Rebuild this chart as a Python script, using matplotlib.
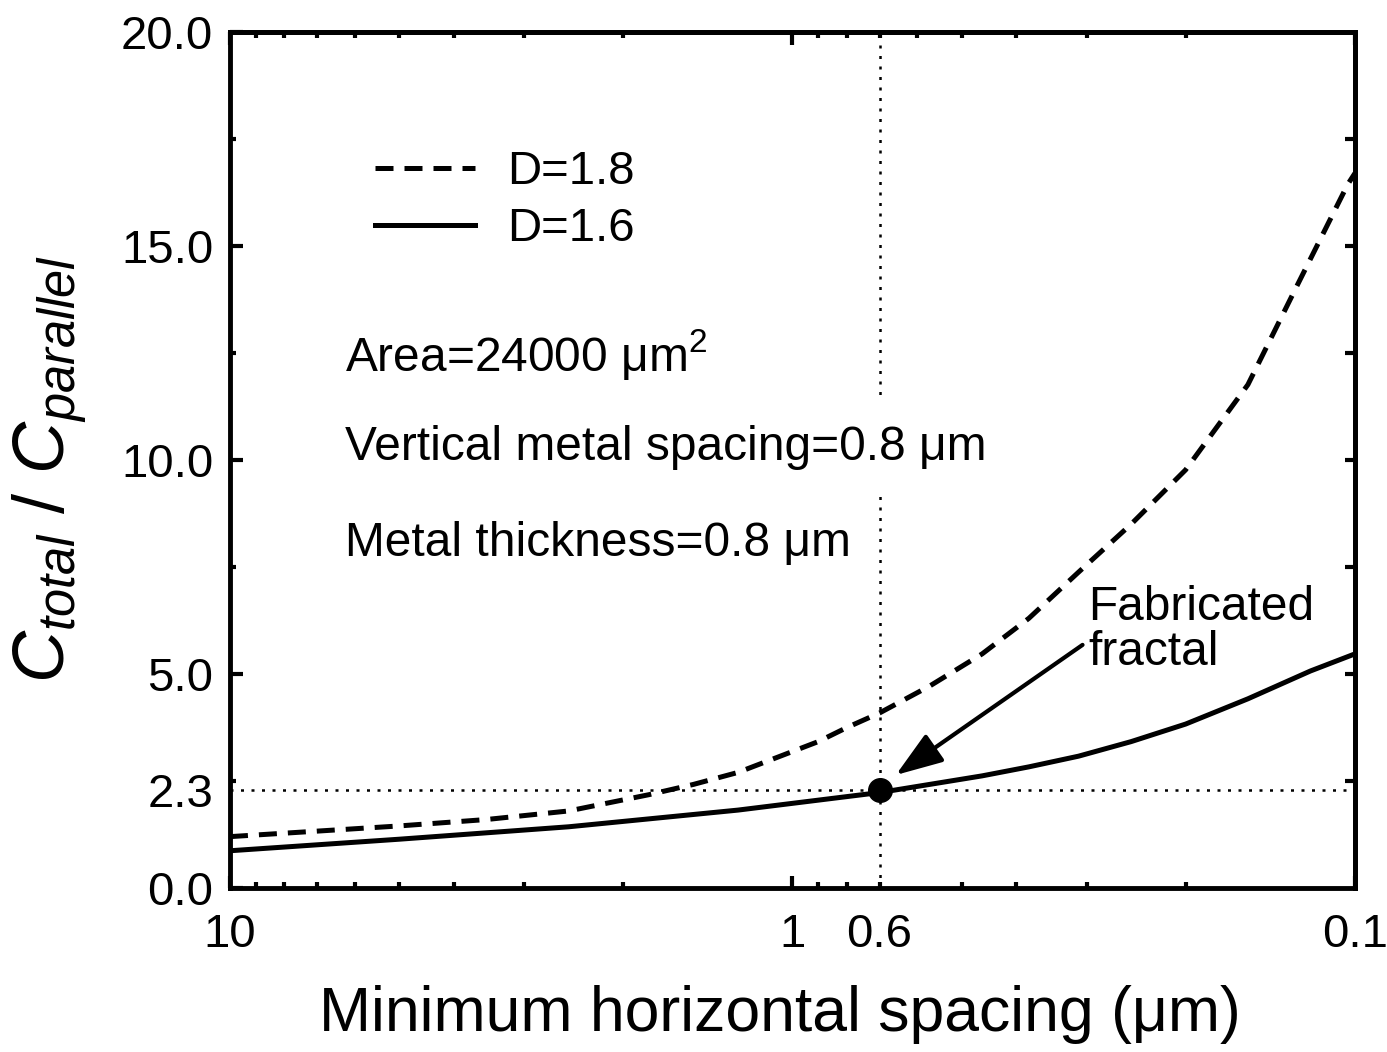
import matplotlib.pyplot as plt
from matplotlib.ticker import FixedLocator, FixedFormatter, NullFormatter

plt.rcParams['font.family'] = ['Liberation Sans', 'DejaVu Sans']
plt.rcParams['mathtext.fontset'] = 'custom'
plt.rcParams['mathtext.rm'] = 'Liberation Sans'
plt.rcParams['mathtext.it'] = 'Liberation Sans:italic'

# D = 1.8 (dashed curve), spacing in um vs C_total/C_parallel
spacing_d18 = [10, 5, 3.5, 2.5, 1.8, 1.5, 1.25, 0.9, 0.8, 0.7, 0.57, 0.46, 0.38, 0.31,
               0.25, 0.2, 0.155, 0.127, 0.103, 0.1]
ratio_d18 = [1.20, 1.45, 1.60, 1.80, 2.18, 2.42, 2.70, 3.42, 3.75, 4.09, 4.72, 5.47, 6.30,
             7.38, 8.50, 9.77, 11.76, 14.05, 16.44, 16.7]

# D = 1.6 (solid curve)
spacing_d16 = [10, 5, 2.5, 1.25, 0.7, 0.46, 0.38, 0.31, 0.25, 0.2, 0.155, 0.12, 0.1]
ratio_d16 = [0.87, 1.14, 1.43, 1.82, 2.23, 2.62, 2.83, 3.08, 3.42, 3.83, 4.42, 5.07, 5.47]

# fabricated fractal point (drawn at the 0.7 position, labelled 0.6 in the original)
fab_x = 0.7
fab_label = '0.6'
fab_y = 2.3

x_major = [10, 1, 0.1]
x_major_labels = ['10', '1', '0.1']
x_minor = [9, 8, 7, 6, 5, 4, 3, 2, 0.9, 0.8, 0.7, 0.5, 0.4, 0.3, 0.2]
x_minor_top = [9, 8, 7, 6, 5, 4, 3, 2, 0.9, 0.8, 0.7, 0.6, 0.5, 0.4, 0.3, 0.2]
y_major = [0, 2.3, 5, 10, 15, 20]
y_major_labels = ['0.0', '2.3', '5.0', '10.0', '15.0', '20.0']
y_minor = [2.5, 7.5, 12.5, 17.5]
y_right = [2.5, 5, 7.5, 10, 12.5, 15, 17.5]

fig = plt.figure(figsize=(13.87, 10.52), dpi=100)
ax = fig.add_axes([0.1658, 0.1559, 0.8111, 0.8137])

ax.plot(spacing_d18, ratio_d18, color='black', lw=3.6, ls=(0, (3.6, 2.2)),
        dash_capstyle='butt', label='D=1.8', zorder=2)
ax.plot(spacing_d16, ratio_d16, color='black', lw=3.6, label='D=1.6', zorder=2)

# dotted guides
ax.axhline(fab_y, color='black', lw=1.8, ls=(0, (1.2, 3)), zorder=1)
ax.axvline(fab_x, color='black', lw=1.8, ls=(0, (1.2, 3)), zorder=1)
ax.plot([fab_x], [fab_y], 'o', color='black', ms=17, zorder=4)

ax.set_xscale('log')
ax.set_xlim(10, 0.1)
ax.set_ylim(0, 20)

# ticks
ax.xaxis.set_major_locator(FixedLocator(x_major))
ax.xaxis.set_major_formatter(FixedFormatter(x_major_labels))
ax.xaxis.set_minor_locator(FixedLocator(x_minor))
ax.xaxis.set_minor_formatter(FixedFormatter([fab_label if v == fab_x else '' for v in x_minor]))
ax.set_yticks(y_major)
ax.set_yticklabels(y_major_labels)
ax.set_yticks(y_minor, minor=True)
ax.yaxis.get_major_ticks()[1].tick1line.set_visible(False)

ax.tick_params(which='both', direction='in', top=False, right=False, width=3, labelsize=34)
ax.tick_params(which='major', length=9)
ax.tick_params(which='minor', length=4.5)
ax.tick_params(axis='x', which='both', pad=18)
ax.tick_params(axis='y', which='both', pad=12)

top = ax.secondary_xaxis('top')
top.xaxis.set_major_locator(FixedLocator(x_major))
top.xaxis.set_minor_locator(FixedLocator(x_minor_top))
top.xaxis.set_major_formatter(NullFormatter())
top.xaxis.set_minor_formatter(NullFormatter())
top.tick_params(which='both', direction='in', width=3)
top.tick_params(which='major', length=9)
top.tick_params(which='minor', length=4.5)

right = ax.secondary_yaxis('right')
right.set_yticks(y_right)
right.yaxis.set_major_formatter(NullFormatter())
right.tick_params(direction='in', width=3, length=7)

for a in (ax, top, right):
    for s in a.spines.values():
        s.set_linewidth(3.5)

ax.set_xlabel('Minimum horizontal spacing (\u03bcm)', fontsize=45)
ax.xaxis.set_label_coords(0.489, -0.113)
ax.set_ylabel(r'$C_{total}$ / $C_{parallel}$', fontsize=52)
ax.yaxis.set_label_coords(-0.125, 0.49)

ax.legend(loc='upper left', bbox_to_anchor=(0.129, 0.862), frameon=False, fontsize=34,
          handlelength=2.12, handletextpad=0.68, labelspacing=0.28, borderpad=0,
          borderaxespad=0)

ax.text(0.102, 0.604, 'Area=24000 \u03bcm$^2$', transform=ax.transAxes, fontsize=34.5,
        va='baseline', ha='left')
ax.text(0.102, 0.5, 'Vertical metal spacing=0.8 \u03bcm', transform=ax.transAxes,
        fontsize=34.5, va='baseline', ha='left',
        bbox=dict(facecolor='white', edgecolor='none', pad=17))
ax.text(0.102, 0.388, 'Metal thickness=0.8 \u03bcm', transform=ax.transAxes,
        fontsize=34.5, va='baseline', ha='left')

ax.text(0.298, 7.08, 'Fabricated\nfractal', fontsize=34.5, va='top', ha='left',
        linespacing=1.0)
ax.annotate('', xy=(0.655, 2.64), xytext=(0.305, 5.68),
            arrowprops=dict(arrowstyle='-|>,head_length=0.85,head_width=0.3', lw=3,
                            color='black', mutation_scale=34, shrinkA=0, shrinkB=0))

fig.savefig('out.png', dpi=100)
